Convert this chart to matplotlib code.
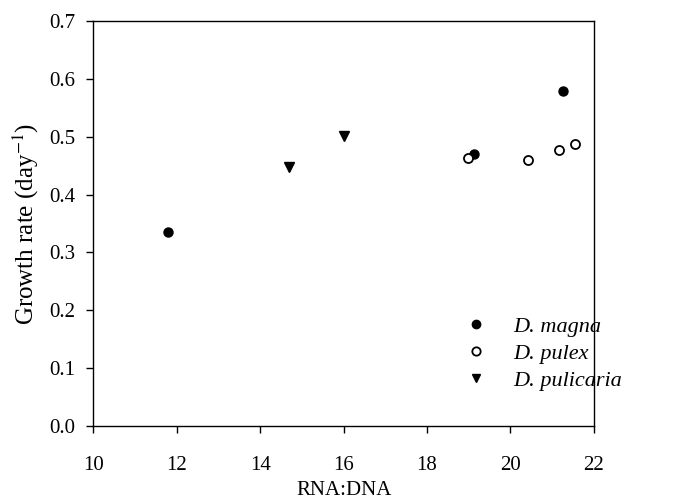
import matplotlib
matplotlib.use("Agg")
import matplotlib.pyplot as plt

plt.rcParams['font.family'] = ['Liberation Serif', 'DejaVu Serif']
plt.rcParams['mathtext.fontset'] = 'stix'

magna_x = [11.8, 19.13, 21.25]
magna_y = [0.336, 0.471, 0.580]

pulex_x = [18.99, 20.43, 21.17, 21.55]
pulex_y = [0.464, 0.460, 0.477, 0.487]

pulicaria_x = [14.70, 16.02]
pulicaria_y = [0.448, 0.502]

fig = plt.figure(figsize=(6.81, 5.04), dpi=100)
ax = fig.add_axes([0.137, 0.155, 0.735, 0.803])

ax.plot(magna_x, magna_y, 'o', color='black', ms=6.5, label='D. magna')
ax.plot(pulex_x, pulex_y, 'o', mfc='white', mec='black', mew=1.3, ms=6.5, label='D. pulex')
ax.plot(pulicaria_x, pulicaria_y, 'v', color='black', ms=7.5, label='D. pulicaria')

ax.set_xlim(10, 22)
ax.set_ylim(0, 0.7)
ax.set_xticks(range(10, 23, 2))
ax.set_yticks([i / 10 for i in range(8)])
ax.yaxis.set_major_formatter(matplotlib.ticker.FormatStrFormatter('%.1f'))
ax.tick_params(direction='out', length=5, width=1, labelsize=15, pad=8,
               top=False, right=False)
ax.tick_params(axis='x', pad=17)
for s in ax.spines.values():
    s.set_linewidth(1)

ax.set_xlabel('RNA:DNA', fontsize=15, labelpad=4)
ax.set_ylabel('Growth rate (day$^{-1}$)', fontsize=18, labelpad=6)

leg = ax.legend(loc='upper left', bbox_to_anchor=(0.742, 0.27), frameon=False,
                borderaxespad=0, borderpad=0,
                prop={'style': 'italic', 'size': 16}, handletextpad=1.2,
                labelspacing=0.28, handlelength=1.0)
for h in leg.legend_handles:
    h.set_markersize(6)

fig.savefig('out.png', dpi=100)
